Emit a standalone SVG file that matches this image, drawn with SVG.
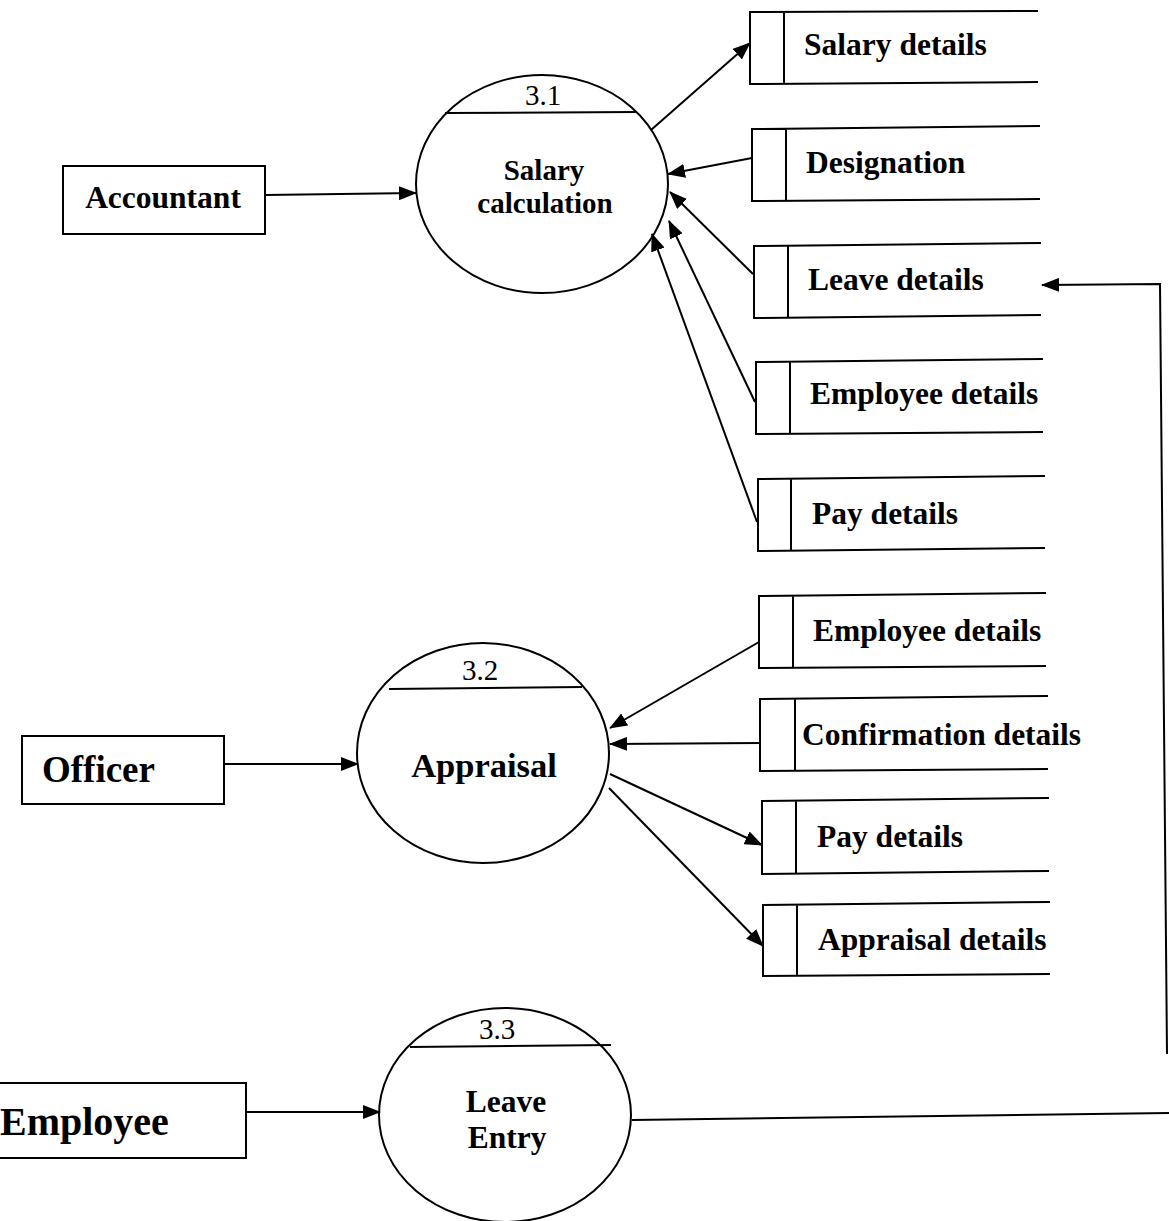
<svg xmlns="http://www.w3.org/2000/svg" width="1169" height="1221" viewBox="0 0 1169 1221">
<style>
.s{fill:none;stroke:#000;stroke-width:2}
.b{font-family:"Liberation Serif","Times New Roman",serif;font-weight:bold;fill:#000}
.n{font-family:"Liberation Serif","Times New Roman",serif;fill:#000;font-size:29px;text-anchor:middle}
.ds{font-size:31.5px}
.c{fill:none;stroke:#000;stroke-width:2;marker-end:url(#ah)}
</style>
<defs>
<marker id="ah" markerUnits="userSpaceOnUse" markerWidth="18" markerHeight="14" refX="17" refY="7" orient="auto">
<path d="M0,0 L18,7 L0,14 Z" fill="#000"/>
</marker>
</defs>
<rect width="1169" height="1221" fill="#fff"/>

<g id="accountant"><rect class="s" x="63" y="166" width="202" height="68"/><text class="b" x="163" y="208" font-size="31.5" text-anchor="middle">Accountant</text></g>
<g id="officer"><rect class="s" x="22" y="736" width="202" height="68"/><text class="b" x="42" y="782" font-size="37">Officer</text></g>
<g id="employee"><rect class="s" x="-10" y="1083" width="256" height="75"/><text class="b" x="0" y="1135" font-size="40">Employee</text></g>

<g id="p31"><ellipse class="s" cx="542" cy="184" rx="126" ry="109"/><line class="s" x1="445" y1="113" x2="637" y2="112"/><text class="n" x="543" y="105">3.1</text><text class="b" x="544" y="180" font-size="29" text-anchor="middle">Salary</text><text class="b" x="545" y="213" font-size="29" text-anchor="middle">calculation</text></g>
<g id="p32"><ellipse class="s" cx="483" cy="753" rx="126" ry="110"/><line class="s" x1="389" y1="689" x2="582" y2="687"/><text class="n" x="480" y="680">3.2</text><text class="b" x="484" y="777" font-size="34.5" text-anchor="middle">Appraisal</text></g>
<g id="p33"><ellipse class="s" cx="505" cy="1115" rx="126" ry="107"/><line class="s" x1="410" y1="1047" x2="611" y2="1045"/><text class="n" x="497" y="1039">3.3</text><text class="b" x="506" y="1112" font-size="31.5" text-anchor="middle">Leave</text><text class="b" x="507" y="1148" font-size="31.5" text-anchor="middle">Entry</text></g>

<g id="ds_salary"><path class="s" d="M1038,11 L750,12 L750,84 L1038,82 M784,12 L784,84"/><text class="b ds" x="804" y="55">Salary details</text></g>
<g id="ds_designation"><path class="s" d="M1040,126 L752,129 L752,201 L1040,199 M786,129 L786,201"/><text class="b ds" x="806" y="173">Designation</text></g>
<g id="ds_leave"><path class="s" d="M1041,243 L754,246 L754,318 L1041,315 M788,246 L788,318"/><text class="b ds" x="808" y="290">Leave details</text></g>
<g id="ds_employee1"><path class="s" d="M1043,359 L756,362 L756,434 L1043,432 M790,362 L790,434"/><text class="b ds" x="810" y="404">Employee details</text></g>
<g id="ds_pay1"><path class="s" d="M1045,476 L758,479 L758,551 L1045,548 M791,479 L791,551"/><text class="b ds" x="812" y="524">Pay details</text></g>
<g id="ds_employee2"><path class="s" d="M1046,593 L759,596 L759,668 L1046,666 M793,596 L793,668"/><text class="b ds" x="813" y="641">Employee details</text></g>
<g id="ds_confirmation"><path class="s" d="M1048,696 L760,699 L760,771 L1048,769 M795,699 L795,771"/><text class="b ds" x="802" y="745">Confirmation details</text></g>
<g id="ds_pay2"><path class="s" d="M1049,798 L762,801 L762,874 L1049,871 M796,801 L796,874"/><text class="b ds" x="817" y="847">Pay details</text></g>
<g id="ds_appraisal"><path class="s" d="M1050,902 L763,905 L763,976 L1050,974 M797,905 L797,976"/><text class="b ds" x="818" y="950">Appraisal details</text></g>

<g id="connectors">
<line class="c" x1="265" y1="195" x2="416" y2="193"/>
<line class="c" x1="651" y1="130" x2="750" y2="43"/>
<line class="c" x1="752" y1="158" x2="668" y2="174"/>
<line class="c" x1="753" y1="274" x2="670" y2="192"/>
<line class="c" x1="755" y1="402" x2="669" y2="221"/>
<line class="c" x1="757" y1="522" x2="652" y2="234"/>
<line class="c" x1="224" y1="764" x2="358" y2="764"/>
<line class="c" x1="759" y1="642" x2="610" y2="728"/>
<line class="c" x1="760" y1="743" x2="610" y2="744"/>
<line class="c" x1="610" y1="774" x2="762" y2="845"/>
<line class="c" x1="609" y1="788" x2="763" y2="946"/>
<line class="c" x1="246" y1="1112" x2="380" y2="1112"/>
<line class="s" x1="632" y1="1120" x2="1169" y2="1113"/>
<polyline class="c" points="1167,1054 1160,284 1042,285"/>
</g>
</svg>
